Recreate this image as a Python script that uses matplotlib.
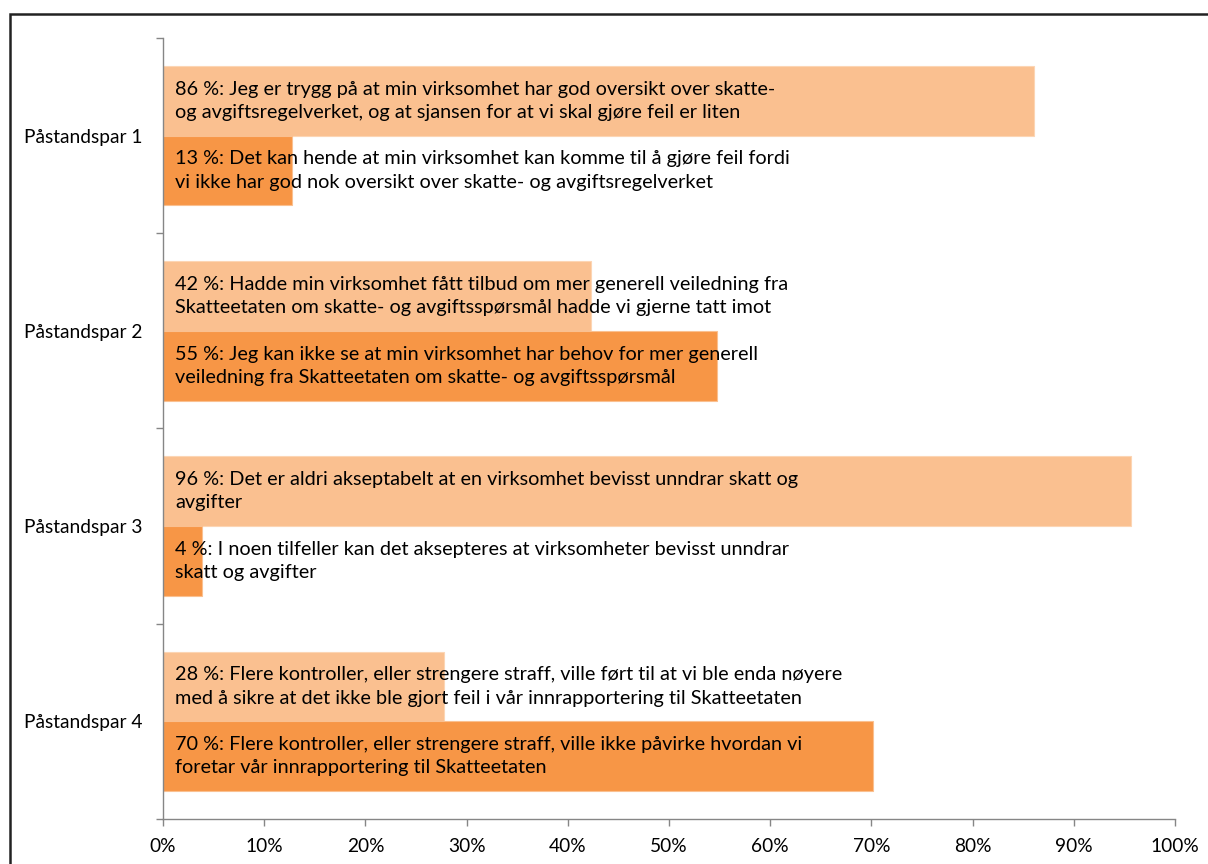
import matplotlib
matplotlib.use("Agg")
import matplotlib.pyplot as plt
from matplotlib.patches import Rectangle

categories = ["Påstandspar 1", "Påstandspar 2", "Påstandspar 3", "Påstandspar 4"]
first_values = [86.1, 42.3, 95.7, 27.8]
second_values = [12.7, 54.7, 3.9, 70.2]
first_labels = [
    "86 %: Jeg er trygg på at min virksomhet har god oversikt over skatte-\nog avgiftsregelverket, og at sjansen for at vi skal gjøre feil er liten",
    "42 %: Hadde min virksomhet fått tilbud om mer generell veiledning fra\nSkatteetaten om skatte- og avgiftsspørsmål hadde vi gjerne tatt imot",
    "96 %: Det er aldri akseptabelt at en virksomhet bevisst unndrar skatt og\navgifter",
    "28 %: Flere kontroller, eller strengere straff, ville ført til at vi ble enda nøyere\nmed å sikre at det ikke ble gjort feil i vår innrapportering til Skatteetaten",
]
second_labels = [
    "13 %: Det kan hende at min virksomhet kan komme til å gjøre feil fordi\nvi ikke har god nok oversikt over skatte- og avgiftsregelverket",
    "55 %: Jeg kan ikke se at min virksomhet har behov for mer generell\nveiledning fra Skatteetaten om skatte- og avgiftsspørsmål",
    "4 %: I noen tilfeller kan det aksepteres at virksomheter bevisst unndrar\nskatt og avgifter",
    "70 %: Flere kontroller, eller strengere straff, ville ikke påvirke hvordan vi\nforetar vår innrapportering til Skatteetaten",
]
xticks = [0, 10, 20, 30, 40, 50, 60, 70, 80, 90, 100]

plt.rcParams['font.family'] = ['Lato', 'DejaVu Sans']

fig = plt.figure(figsize=(12.08, 8.64), dpi=100)
ax = fig.add_axes([163/1208, 1-819/864, (1175-163)/1208, (819-38)/864])

h = 0.357
ypos = list(range(len(categories)))
light = "#FAC090"
dark = "#F79646"
ax.barh([y - h/2 for y in ypos], first_values, height=h, color=light,
        edgecolor="#FCD5B4", linewidth=0.8)
ax.barh([y + h/2 for y in ypos], second_values, height=h, color=dark,
        edgecolor="#FAC090", linewidth=0.8)

for y, t in zip(ypos, first_labels):
    ax.text(1.2, y - h/2, t, va="center", ha="left", fontsize=14.3,
            color="black", linespacing=1.45)
for y, t in zip(ypos, second_labels):
    ax.text(1.2, y + h/2, t, va="center", ha="left", fontsize=14.3,
            color="black", linespacing=1.45)

ax.set_xlim(0, 100)
ax.set_ylim(len(categories) - 0.5, -0.5)
ax.set_xticks(xticks)
ax.set_xticklabels([f"{v}%" for v in xticks], fontsize=13.8)
ax.set_yticks(ypos)
ax.set_yticklabels(categories, fontsize=13.8)
ax.set_yticks([y - 0.5 for y in range(len(categories) + 1)], minor=True)
ax.tick_params(axis="y", which="major", length=0, pad=15)
ax.tick_params(axis="y", which="minor", length=5, color="#868686", width=1)
ax.tick_params(axis="x", which="major", length=5, color="#868686", width=1, pad=9)
for s in ["top", "right"]:
    ax.spines[s].set_visible(False)
for s in ["left", "bottom"]:
    ax.spines[s].set_color("#868686")
    ax.spines[s].set_linewidth(1)

fig.patches.append(Rectangle((10/1208, -0.1), 1.2, 1 - 14/864 + 0.1,
                             transform=fig.transFigure, fill=False,
                             edgecolor="#222222", linewidth=1.8))

fig.savefig("out.png", dpi=100)
